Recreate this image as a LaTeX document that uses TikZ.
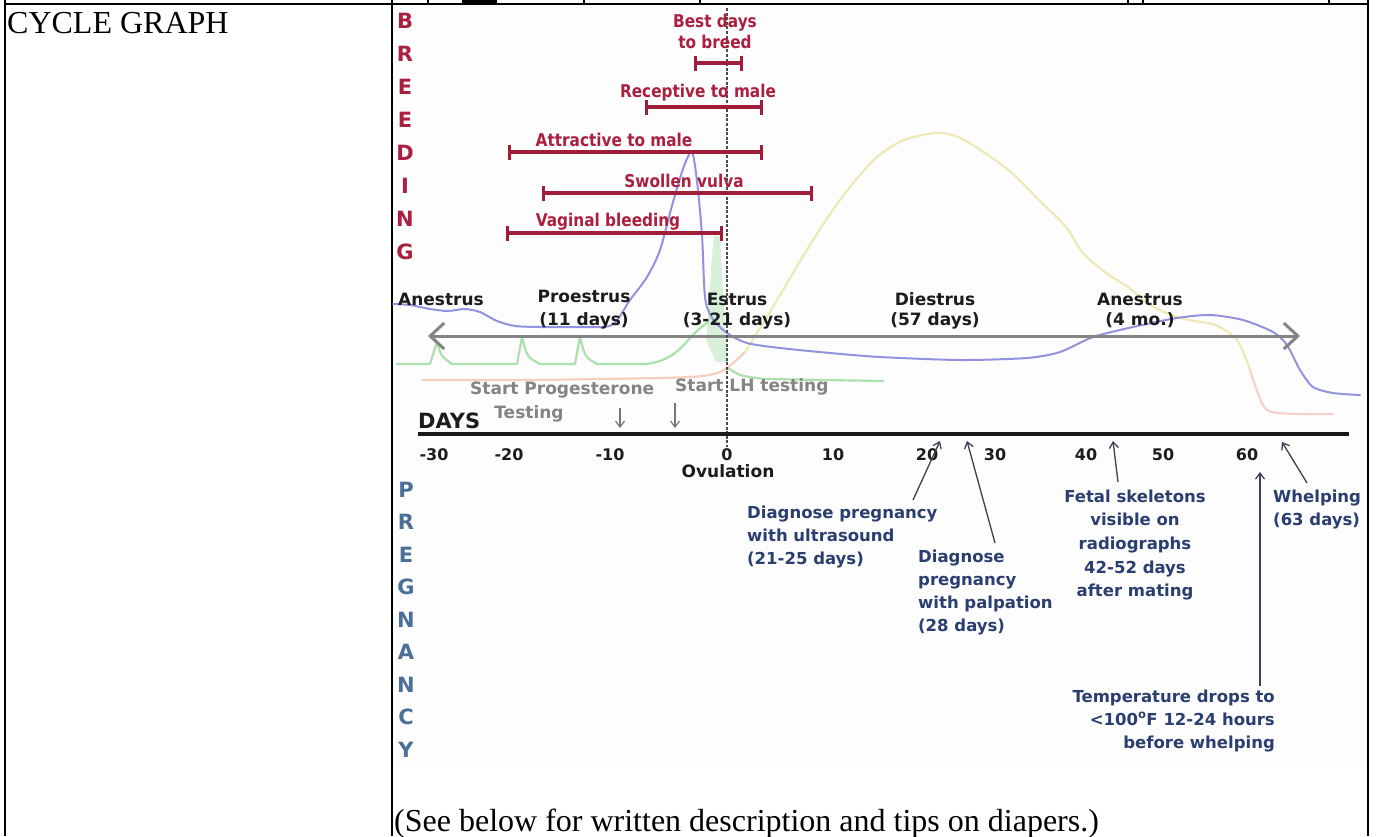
\documentclass[tikz,border=0pt]{standalone}
\usepackage{fontspec}
\setmainfont{Liberation Serif}
\newfontfamily\vf{DejaVu Sans}
\usetikzlibrary{arrows.meta}
\definecolor{redc}{RGB}{170,32,62}
\definecolor{barc}{RGB}{160,30,58}
\definecolor{pletc}{RGB}{74,112,152}
\definecolor{pregc}{RGB}{42,62,112}
\definecolor{phasec}{RGB}{28,28,28}
\definecolor{grayc}{RGB}{132,132,132}
\definecolor{arrc}{RGB}{60,64,84}
\definecolor{bluec}{RGB}{146,146,222}
\definecolor{greenc}{RGB}{172,224,172}
\definecolor{salmonc}{RGB}{246,206,190}
\definecolor{yellowc}{RGB}{238,233,182}
\definecolor{pinkc}{RGB}{244,210,204}
\definecolor{bgc}{RGB}{253,253,253}
\newcommand{\tallr}[1]{\scalebox{1}[1.15]{#1}}
\tikzset{
  redl/.style={font=\vf\bfseries\fontsize{15.3}{18}\selectfont, text=redc, inner sep=0pt, anchor=base},
  bigr/.style={font=\vf\bfseries\fontsize{21}{24}\selectfont, text=redc, inner sep=0pt, anchor=base},
  bigb/.style={font=\vf\bfseries\fontsize{21}{24}\selectfont, text=pletc, inner sep=0pt, anchor=base},
  phase/.style={font=\vf\bfseries\fontsize{17}{20}\selectfont, text=phasec, inner sep=0pt, anchor=base},
  tick/.style={font=\vf\bfseries\fontsize{16}{19}\selectfont, text=phasec, inner sep=0pt, anchor=base},
  grayl/.style={font=\vf\bfseries\fontsize{17}{20}\selectfont, text=grayc, inner sep=0pt},
  preg/.style={font=\vf\bfseries\fontsize{16.5}{19}\selectfont, text=pregc, inner sep=0pt},
  rbar/.style={draw=barc, line width=3.5pt, {Bar[width=15pt,line width=3pt]}-{Bar[width=15pt,line width=3pt]}},
  parrow/.style={draw=arrc, line width=1.3pt, -{Straight Barb[length=6pt,width=9pt,line width=1.3pt]}},
  garrow/.style={draw=grayc!90!black, line width=1.2pt, -{Straight Barb[length=6pt,width=9pt,line width=1.2pt]}},
  times/.style={font=\fontsize{32}{38}\selectfont, inner sep=0pt, anchor=base west},
  curve/.style={line width=2.2pt, line cap=round, line join=round},
}
\begin{document}
\begin{tikzpicture}[x=1pt,y=-1pt]
\useasboundingbox (0,0) rectangle (1382,836);
\fill[white] (0,0) rectangle (1382,836);
% graph background
\fill[bgc] (393,5) rectangle (1367,767);
% table rules
\draw[line width=2pt] (5,0) -- (5,836);
\draw[line width=2pt] (392,0) -- (392,836);
\draw[line width=2pt] (1368,0) -- (1368,836);
\draw[line width=2pt] (5,3.5) -- (1368,3.5);
% fragments of the row above
\fill[black] (462,0) rectangle (497,3);
\foreach \fx in {428,584,700,1128,1143,1329} \draw[line width=1.3pt] (\fx,0) -- (\fx,2.5);
% table texts
\node[times] (cg) at (7,33) {CYCLE GRAPH};
\node[times] (see) at (394,831) {(See below for written description and tips on diapers.)};

% ---- hormone curves ----
\draw[curve, salmonc] plot[smooth, tension=0.5] coordinates {(423,380) (520,380) (600,379) (690,377) (722,371) (745,352)};
\draw[curve, yellowc] plot[smooth, tension=0.5] coordinates {(745,352) (765,320) (783,290) (805,253) (828,217) (850,187) (877,157) (904,140) (936,133) (958,137) (985,153) (1012,173) (1039,200) (1066,227) (1083,253) (1106,273) (1128,287) (1150,305) (1180,318) (1215,325) (1237,340) (1250,370)};
\draw[curve, pinkc] plot[smooth, tension=0.5] coordinates {(1250,370) (1263,405) (1278,413) (1333,414)};
% LH / green
\draw[curve, greenc] (397,364) -- (430,364) -- (437,342) .. controls (441,356) .. (452,364) -- (517,364) -- (522,337) .. controls (527,357) .. (540,364) -- (575,364) -- (580,337) .. controls (585,357) .. (597,364) -- (645,364) .. controls (668,362) and (680,350) .. (690,338) .. controls (700,328) .. (708,322);
\fill[greenc, opacity=0.45] (706,340) .. controls (710,300) and (711,260) .. (714,236) -- (720,236) .. controls (722,270) and (724,320) .. (728,362) -- (716,362) -- cycle;
\draw[curve, greenc] (728,368) .. controls (740,376) .. (765,379) -- (883,381);
% estrogen / blue
\draw[curve, bluec, line width=2pt] plot[smooth, tension=0.45] coordinates {(393,304) (410,305) (430,309) (448,311) (465,309) (480,312) (497,321) (515,326) (540,327) (580,327) (612,325) (630,300) (647,277) (660,250) (673,202) (684,166) (692,152) (697,181) (702,235) (705,297) (712,318) (727,333) (747,343) (780,348) (830,353) (880,357) (960,360) (1027,358) (1060,352) (1093,337) (1133,327) (1177,318) (1210,315) (1243,320) (1273,332) (1287,345) (1300,370) (1313,387) (1333,393) (1360,395)};

% ---- phase arrow ----
\coordinate (pl) at (428,336);
\coordinate (pr) at (1300,336);
\draw[draw=grayc, line width=3pt, {Straight Barb[length=14pt,width=26pt,line width=3pt]}-{Straight Barb[length=14pt,width=26pt,line width=3pt]}] (pl) -- (pr);

% ---- ovulation line ----
\coordinate (ovt) at (727,8);
\coordinate (ovb) at (727,447);
\draw[draw=black!70, line width=2.4pt, dash pattern=on 3pt off 1.6pt] (ovt) -- (ovb);

% ---- BREEDING letters ----
\foreach \L [count=\i from 0] in {B,R,E,E,D,I,N,G}
  \node[bigr] (br\i) at (405,{28+33*\i}) {\L};
% ---- PREGNANCY letters ----
\foreach \L [count=\i from 0] in {P,R,E,G,N,A,N,C,Y}
  \node[bigb] (pg\i) at (406,{497+32.5*\i}) {\L};

% ---- breeding bars ----
\node[redl] (bd1) at (715,27) {\tallr{Best days}};
\node[redl] (bd2) at (715,48) {\tallr{to breed}};
\coordinate (b1a) at (694,63); \coordinate (b1b) at (743,63);
\draw[rbar] (b1a) -- (b1b);
\node[redl] (rm) at (698,97) {\tallr{Receptive to male}};
\coordinate (b2a) at (645,107); \coordinate (b2b) at (763,107);
\draw[rbar] (b2a) -- (b2b);
\node[redl] (am) at (614,146) {\tallr{Attractive to male}};
\coordinate (b3a) at (508,152); \coordinate (b3b) at (763,152);
\draw[rbar] (b3a) -- (b3b);
\node[redl] (sv) at (684,187) {\tallr{Swollen vulva}};
\coordinate (b4a) at (542,193); \coordinate (b4b) at (813,193);
\draw[rbar] (b4a) -- (b4b);
\node[redl] (vb) at (608,226) {\tallr{Vaginal bleeding}};
\coordinate (b5a) at (506,233); \coordinate (b5b) at (723,233);
\draw[rbar] (b5a) -- (b5b);

% ---- phase labels ----
\node[phase] (an1) at (441,305) {Anestrus};
\node[phase] (pr1) at (584,302) {Proestrus};
\node[phase] (pr2) at (584,325) {(11 days)};
\node[phase] (es1) at (737,305) {Estrus};
\node[phase] (es2) at (737,325) {(3-21 days)};
\node[phase] (di1) at (935,305) {Diestrus};
\node[phase] (di2) at (935,325) {(57 days)};
\node[phase] (an2) at (1140,305) {Anestrus};
\node[phase] (an3) at (1140,325) {(4 mo.)};

% ---- testing ----
\node[grayl, anchor=base west] (sp1) at (470,394) {Start Progesterone};
\node[grayl, anchor=base] (sp2) at (529,418) {Testing};
\node[grayl, anchor=base west] (lh) at (675,391) {Start LH testing};
\coordinate (pa1) at (620,408); \coordinate (pa2) at (620,428);
\draw[garrow] (pa1) -- (pa2);
\coordinate (la1) at (675,403); \coordinate (la2) at (675,428);
\draw[garrow] (la1) -- (la2);

% ---- days axis ----
\node[font=\vf\bfseries\fontsize{21}{24}\selectfont, text=phasec, inner sep=0pt, anchor=base west] (days) at (418,428) {DAYS};
\coordinate (ax1) at (418,434); \coordinate (ax2) at (1349,434);
\draw[line width=4.5pt, draw=black!90] (ax1) -- (ax2);
\node[tick] (tm30) at (434,460) {-30};
\node[tick] (tm20) at (509,460) {-20};
\node[tick] (tm10) at (610,460) {-10};
\node[tick] (t0) at (727,460) {0};
\node[tick] (t10) at (833,460) {10};
\node[tick] (t20) at (927,460) {20};
\node[tick] (t30) at (995,460) {30};
\node[tick] (t40) at (1086,460) {40};
\node[tick] (t50) at (1163,460) {50};
\node[tick] (t60) at (1247,460) {60};
\node[tick, font=\vf\bfseries\fontsize{17}{20}\selectfont] (ov) at (728,477) {Ovulation};

% ---- pregnancy annotations ----
\node[preg, anchor=base west] (us1) at (747,518) {Diagnose pregnancy};
\node[preg, anchor=base west] (us2) at (747,541) {with ultrasound};
\node[preg, anchor=base west] (us3) at (747,564) {(21-25 days)};
\coordinate (us0) at (913,500); \coordinate (ust) at (940,441);
\draw[parrow] (us0) -- (ust);

\node[preg, anchor=base west] (pa1t) at (918,562) {Diagnose};
\node[preg, anchor=base west] (pa2t) at (918,585) {pregnancy};
\node[preg, anchor=base west] (pa3t) at (918,608) {with palpation};
\node[preg, anchor=base west] (pa4t) at (918,631) {(28 days)};
\coordinate (pp0) at (995,543); \coordinate (ppt) at (967,441);
\draw[parrow] (pp0) -- (ppt);

\node[preg, anchor=base] (fs1) at (1135,502) {Fetal skeletons};
\node[preg, anchor=base] (fs2) at (1135,525) {visible on};
\node[preg, anchor=base] (fs3) at (1135,549) {radiographs};
\node[preg, anchor=base] (fs4) at (1135,573) {42-52 days};
\node[preg, anchor=base] (fs5) at (1135,596) {after mating};
\coordinate (fs0) at (1118,482); \coordinate (fst) at (1113,441);
\draw[parrow] (fs0) -- (fst);

\node[preg, anchor=base west] (wh1) at (1273,502) {Whelping};
\node[preg, anchor=base west] (wh2) at (1273,525) {(63 days)};
\coordinate (wh0) at (1307,483); \coordinate (wht) at (1282,442);
\draw[parrow] (wh0) -- (wht);

\node[preg, anchor=base east] (tp1) at (1275,702) {Temperature drops to};
\node[preg, anchor=base east] (tp2) at (1275,725) {<100\textsuperscript{o}F 12-24 hours};
\node[preg, anchor=base east] (tp3) at (1275,748) {before whelping};
\coordinate (tp0) at (1260,686); \coordinate (tpt) at (1260,472);
\draw[parrow] (tp0) -- (tpt);
\end{tikzpicture}
\end{document}
